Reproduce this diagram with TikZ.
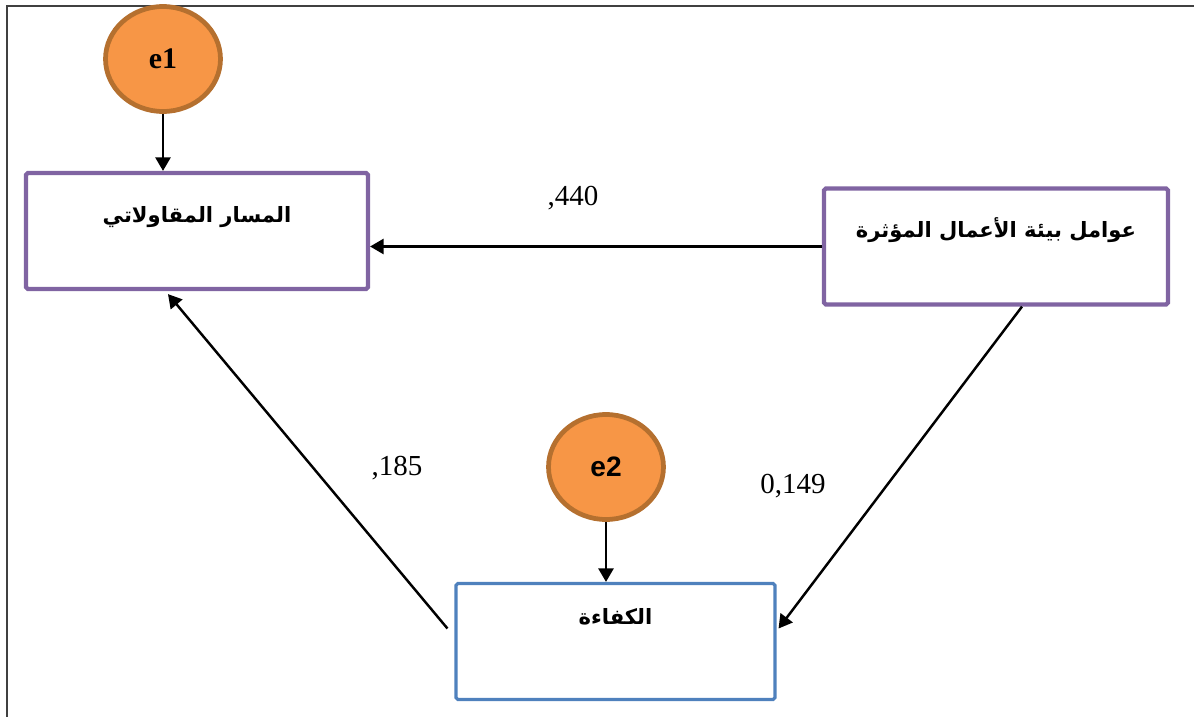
\documentclass[tikz,border=0pt]{standalone}
\usepackage{fontspec}
\setmainfont{Liberation Serif}
\newfontfamily\arabicfont[Script=Arabic]{DejaVu Sans}
\newfontfamily\latinsans{Liberation Sans}
\TeXXeTstate=1
\usetikzlibrary{arrows.meta,calc,positioning}
\usetikzlibrary{shapes.geometric}
\definecolor{errfill}{HTML}{F79646}
\definecolor{errline}{HTML}{B5702F}
\definecolor{boxpurple}{HTML}{8064A2}
\definecolor{boxblue}{HTML}{4F81BD}

\begin{document}
\begin{tikzpicture}[x=0.02cm,y=-0.02cm,
err/.style={ellipse,draw=errline,fill=errfill,line width=2.7pt,minimum width=2.3cm,minimum height=2.1cm,inner sep=0pt},
varbox/.style={rectangle,draw=boxpurple,line width=2.4pt,rounded corners=1pt,inner sep=0pt,text height=0.98cm,text depth=1.34cm,align=center,
font=\arabicfont\bfseries\fontsize{12}{14}\selectfont},
arr/.style={-{Triangle[length=0.27cm,width=0.3cm]},line width=1.4pt},
coef/.style={draw=none,font=\fontsize{16.5}{18}\selectfont}]
\useasboundingbox (0,0) rectangle (1194,717);
\draw[line width=1pt,black!75] (7,717)--(7,6)--(1194,6);
\node[err,font=\bfseries\fontsize{17}{18}\selectfont] (E1) at (163,59) {e1};
\node[err,font=\latinsans\bfseries\fontsize{16}{18}\selectfont] (E2) at (606,467) {e2};
\node[varbox,minimum width=6.84cm] (B1) at (197,231) {\beginR المسار المقاولاتي\endR};
\node[varbox,minimum width=6.88cm] (B2) at (996,246.5) {\beginR عوامل بيئة الأعمال المؤثرة\endR};
\node[varbox,draw=boxblue,line width=1.8pt,minimum width=6.38cm,text height=0.82cm,text depth=1.5cm] (B3) at (615.5,641.5) {\beginR الكفاءة\endR};
\draw[arr] (E1.south)--(E1.south |- B1.north);
\draw[arr] (E2.south)--(E2.south |- B3.north);
\draw[arr] (B2.west)--(B1.east |- B2.west);
\draw[arr] ($(B2.south)+(26,0)$)--($(B3.east)+(2,-13)$);
\draw[arr] ($(B3.west)+(-7,-13)$)--($(B1.south)+(-29,3)$);
\node[coef] at (573,198) {,440};
\node[coef] at (793,486) {0,149};
\node[coef] at (397,468) {,185};
\end{tikzpicture}
\end{document}
